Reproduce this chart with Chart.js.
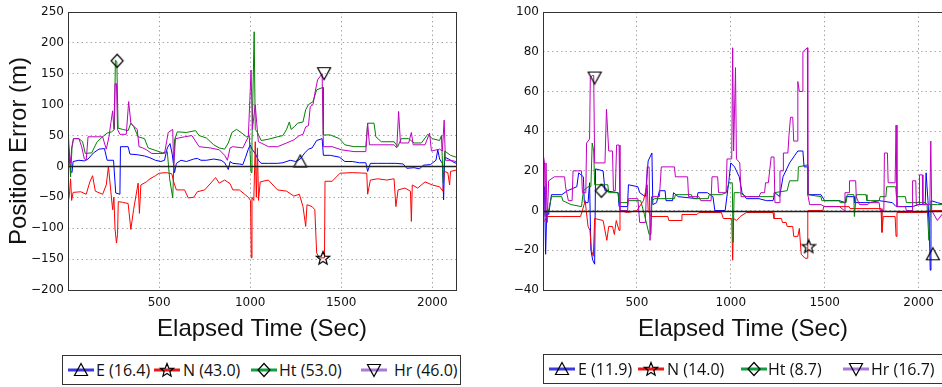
<!DOCTYPE html>
<html>
<head>
<meta charset="utf-8">
<script src="https://cdn.jsdelivr.net/npm/chart.js@4.4.0/dist/chart.umd.min.js"></script>
<style>
    html, body { margin: 0; padding: 0; background: #fff; width: 942px; height: 387px; overflow: hidden; position: relative; }
    canvas.plot { position: absolute; top: 0; }
    .legend { position: absolute; height: 28px; border: 1px solid #333; background: #fff; font: 16px "Open Sans", sans-serif; color: #111; }
    .legend span { position: absolute; top: 0; line-height: 28px; white-space: nowrap; }
    .legend canvas { position: absolute; top: 6px; }
</style>
</head>
<body>
<canvas id="left" class="plot" width="471" height="387" style="left:0"></canvas>
<canvas id="right" class="plot" width="480" height="387" style="left:471px"></canvas>
<div id="legLeft" class="legend" style="left:62px;top:355px;width:397px"></div>
<div id="legRight" class="legend" style="left:543px;top:354px;width:410px"></div>
<script>
// x tick labels (seconds)
const elapsedTicks = [500, 1000, 1500, 2000];

// Left panel: [time (s), error (m)]
const leftE = [[0,15],[8,12],[15,-8],[22,-10],[28,8],[60,10],[90,9],[110,12],[140,22],[170,28],[200,29],[215,10],[250,10],[262,-43],[285,-45],[288,32],[330,32],[340,20],[380,19],[420,17],[450,14],[480,10],[510,8],[530,10],[545,30],[560,37],[572,20],[585,-10],[595,5],[620,10],[650,8],[690,12],[710,13],[730,10],[760,10],[800,12],[840,10],[860,6],[880,-5],[890,8],[905,5],[940,4],[960,3],[975,15],[990,28],[1000,35],[1010,28],[1030,20],[1045,10],[1060,5],[1100,5],[1150,5],[1180,6],[1220,10],[1250,8],[1275,12],[1300,22],[1320,28],[1340,30],[1365,42],[1395,45],[1402,18],[1440,18],[1490,15],[1520,8],[1560,8],[1600,6],[1635,6],[1645,-8],[1660,5],[1700,5],[1750,5],[1800,5],[1840,4],[1860,-3],[1900,-2],[1930,-4],[1950,2],[1990,3],[2020,10],[2030,27],[2040,12],[2055,5],[2062,-54],[2068,15],[2090,12],[2110,8],[2130,5]];
const leftN = [[0,-60],[8,-45],[14,-20],[20,-55],[28,-42],[70,-41],[100,-45],[120,-25],[135,-15],[150,-40],[190,-45],[210,-30],[222,0],[235,-40],[245,-70],[252,-50],[258,-100],[266,-124],[272,-110],[276,-57],[300,-58],[330,-60],[345,-102],[360,-70],[385,-27],[392,-76],[400,-30],[430,-25],[450,-20],[480,-15],[500,-11],[540,-10],[570,-12],[580,-25],[595,-38],[640,-38],[660,-51],[690,-50],[710,-41],[750,-38],[790,-25],[810,-18],[830,-27],[860,-22],[890,-28],[905,-38],[940,-38],[970,-45],[990,-50],[1002,-55],[1006,-148],[1010,-50],[1020,-55],[1028,40],[1034,-50],[1040,30],[1046,-55],[1055,-25],[1100,-22],[1150,-38],[1200,-40],[1240,-48],[1270,-45],[1290,-65],[1305,-97],[1312,-62],[1340,-65],[1355,-70],[1365,-140],[1380,-148],[1408,-148],[1411,-24],[1450,-24],[1493,-11],[1560,-10],[1640,-11],[1645,-45],[1660,-22],[1700,-20],[1750,-22],[1790,-20],[1800,-65],[1812,-38],[1850,-35],[1880,-40],[1885,-89],[1890,-30],[1920,-35],[1960,-25],[2000,-30],[2040,-33],[2058,-40],[2065,-8],[2085,-10],[2095,-30],[2100,-8],[2130,-6]];
const leftHt = [[0,37],[8,20],[14,-17],[22,30],[30,45],[60,45],[80,40],[95,21],[130,22],[160,40],[190,48],[215,54],[240,56],[255,60],[260,172],[268,170],[275,62],[300,60],[330,58],[345,70],[360,65],[385,48],[420,45],[440,30],[480,26],[520,22],[545,24],[558,-20],[575,-51],[585,43],[600,56],[650,55],[700,58],[720,50],[760,46],[800,35],[830,30],[860,28],[880,38],[900,55],[925,60],[950,55],[980,48],[995,50],[1005,-10],[1010,40],[1022,218],[1028,60],[1040,55],[1060,42],[1100,44],[1150,48],[1180,50],[1200,60],[1215,72],[1225,60],[1245,65],[1260,70],[1290,72],[1305,92],[1320,100],[1345,105],[1365,124],[1400,128],[1402,51],[1440,51],[1490,45],[1520,35],[1570,32],[1635,32],[1645,70],[1680,70],[1690,48],[1720,40],[1790,40],[1810,32],[1830,45],[1870,45],[1900,38],[1940,38],[1975,52],[2000,45],[2040,42],[2050,50],[2060,-27],[2068,25],[2100,18],[2130,15]];
const leftHr = [[0,62],[8,20],[14,5],[20,30],[30,45],[60,45],[75,32],[90,12],[100,10],[110,48],[160,48],[190,48],[210,28],[225,48],[235,70],[245,90],[252,60],[258,134],[266,134],[272,60],[285,52],[320,52],[333,105],[345,70],[360,65],[380,60],[390,32],[410,30],[430,27],[460,21],[530,21],[550,55],[575,60],[580,0],[590,45],[640,48],[680,50],[720,32],[780,30],[830,27],[860,18],[875,10],[890,30],[905,32],[960,30],[990,48],[1005,156],[1012,60],[1020,80],[1028,100],[1036,70],[1045,40],[1060,38],[1100,32],[1150,32],[1200,38],[1240,43],[1270,50],[1290,52],[1305,64],[1320,66],[1330,97],[1345,100],[1355,118],[1370,140],[1395,150],[1402,32],[1450,32],[1500,27],[1570,24],[1635,24],[1645,70],[1655,35],[1700,35],[1790,35],[1805,30],[1815,89],[1825,38],[1870,38],[1885,55],[1895,35],[1960,35],[1985,54],[1995,25],[2040,28],[2055,25],[2065,75],[2072,10],[2100,10],[2130,8]];
const leftPeaks = [[1275,8],[1400,-148],[270,171],[1406,151]];
const leftLabels = ['E (16.4)', 'N (43.0)', 'Ht (53.0)', 'Hr (46.0)'];

// Right panel: [time (s), error (m)]
const rightE = [[0,12],[8,12],[14,-22],[20,0],[30,-2],[45,8],[100,8],[130,10],[180,12],[190,19],[215,17],[220,4],[240,4],[248,14],[255,-20],[265,-25],[275,-27],[280,21],[320,20],[330,10],[400,9],[405,2],[450,2],[455,13],[505,12],[515,9],[545,7],[560,25],[580,29],[585,3],[605,4],[620,10],[650,10],[655,5],[690,5],[695,9],[720,7],[820,6],[825,9],[875,9],[905,7],[915,0],[970,0],[990,15],[1000,24],[1020,22],[1030,20],[1045,17],[1060,9],[1083,6],[1150,6],[1190,5],[1225,5],[1235,9],[1260,7],[1278,17],[1313,24],[1357,30],[1384,30],[1390,22],[1408,22],[1410,8],[1480,8],[1500,5],[1578,5],[1610,4],[1614,7],[1658,7],[1660,4],[1740,4],[1790,5],[1860,4],[1880,2],[1967,2],[2000,3],[2035,3],[2040,19],[2050,5],[2058,-12],[2062,-30],[2066,5],[2100,4],[2140,3]];
const rightN = [[0,-6],[10,-5],[20,-3],[100,-3],[200,-3],[225,5],[230,0],[240,-8],[250,-10],[258,-20],[268,-23],[275,-4],[320,-5],[340,-15],[350,-8],[370,-8],[380,-12],[390,-5],[405,-10],[410,0],[450,-1],[500,0],[535,5],[555,13],[560,0],[575,-3],[665,-3],[670,-5],[735,-5],[740,-2],[820,-2],[830,-1],[950,-1],[960,-4],[1005,-4],[1010,-25],[1015,-4],[1030,-5],[1050,-3],[1083,-1],[1225,-1],[1230,-4],[1270,-4],[1275,-6],[1295,-6],[1300,-8],[1330,-8],[1335,-13],[1357,-13],[1365,-9],[1375,-22],[1395,-24],[1408,-24],[1410,0],[1490,0],[1495,2],[1630,2],[1635,1],[1800,1],[1805,-11],[1812,-3],[1875,-3],[1880,-13],[1885,-1],[1960,-1],[2040,-1],[2060,0],[2140,0]];
const rightHt = [[0,-3],[10,0],[30,0],[45,7],[100,7],[105,5],[150,3],[205,2],[215,10],[240,12],[255,12],[262,34],[270,30],[275,13],[345,13],[350,9],[400,9],[405,4],[450,4],[455,5],[520,5],[540,-2],[565,-12],[575,-12],[580,5],[595,6],[700,6],[705,8],[790,8],[800,6],[880,6],[885,8],[950,8],[975,9],[990,14],[1008,14],[1012,-16],[1018,9],[1048,9],[1083,7],[1225,7],[1230,9],[1300,10],[1313,15],[1357,15],[1360,22],[1408,23],[1410,8],[1480,7],[1485,5],[1578,5],[1582,4],[1614,4],[1620,8],[1655,8],[1658,-3],[1668,8],[1720,8],[1725,5],[1790,5],[1795,7],[1826,7],[1830,12],[1878,12],[1882,7],[1930,7],[1935,4],[2038,4],[2045,3],[2055,-15],[2062,3],[2100,3],[2140,3]];
const rightHr = [[0,29],[8,24],[12,-3],[16,24],[22,-6],[30,15],[60,17],[115,17],[120,12],[135,5],[155,5],[160,20],[205,20],[210,9],[228,9],[232,34],[248,36],[252,67],[262,68],[270,68],[275,24],[330,24],[338,51],[350,30],[370,30],[375,10],[385,10],[392,33],[405,33],[410,0],[450,0],[455,6],[505,6],[515,-6],[545,-6],[555,22],[565,22],[570,-15],[578,7],[620,7],[630,22],[700,22],[705,17],[770,17],[775,7],[830,7],[840,5],[895,5],[900,17],[930,17],[935,9],[975,9],[980,26],[1005,26],[1010,82],[1015,30],[1025,72],[1030,26],[1048,24],[1055,7],[1150,7],[1160,9],[1180,9],[1185,14],[1200,14],[1215,27],[1230,27],[1235,4],[1258,4],[1262,20],[1278,20],[1280,29],[1304,29],[1310,38],[1318,47],[1330,47],[1335,35],[1355,35],[1357,65],[1365,60],[1380,60],[1384,80],[1408,82],[1410,8],[1420,3],[1480,3],[1500,2],[1578,2],[1605,0],[1608,9],[1630,9],[1632,15],[1665,15],[1668,7],[1685,3],[1730,3],[1740,4],[1790,4],[1795,0],[1815,0],[1818,29],[1834,29],[1838,14],[1875,14],[1880,43],[1885,2],[1930,2],[1935,0],[1965,0],[1968,15],[1985,15],[1988,3],[2003,3],[2005,18],[2020,18],[2023,3],[2060,3],[2065,35],[2070,0],[2100,-5],[2140,0]];
const rightPeaks = [[2076,-22],[1415,-18],[311,10],[275,67]];
const rightLabels = ['E (11.9)', 'N (14.0)', 'Ht (8.7)', 'Hr (16.7)'];

const lineColors = ['#0000ff', '#ff0000', '#008000', '#bf00bf'];
const legendColors = ['#3a3ae0', '#e81818', '#10a040', '#a87ad8'];
const shapes = ['up', 'star', 'diamond', 'down'];

// small black outline marker, optionally on a coloured legend line
function markerCanvas(shape, lineColor) {
    const w = lineColor ? 26 : 16, h = 16;
    const c = document.createElement('canvas');
    c.width = w; c.height = h;
    const g = c.getContext('2d');
    const cx = w / 2, cy = h / 2;
    if (lineColor) {
        g.strokeStyle = lineColor;
        g.lineWidth = 3;
        g.beginPath(); g.moveTo(0, cy); g.lineTo(w, cy); g.stroke();
    }
    g.strokeStyle = '#000';
    g.lineWidth = 1.2;
    g.beginPath();
    if (shape === 'up') {
        g.moveTo(cx, cy - 6.5); g.lineTo(cx + 6.5, cy + 5.5); g.lineTo(cx - 6.5, cy + 5.5);
    } else if (shape === 'down') {
        g.moveTo(cx, cy + 6.5); g.lineTo(cx + 6.5, cy - 5.5); g.lineTo(cx - 6.5, cy - 5.5);
    } else if (shape === 'diamond') {
        g.moveTo(cx, cy - 6.5); g.lineTo(cx + 6, cy); g.lineTo(cx, cy + 6.5); g.lineTo(cx - 6, cy);
    } else {
        for (let i = 0; i < 10; i++) {
            const a = -Math.PI / 2 + i * Math.PI / 5;
            const r = i % 2 ? 3 : 7;
            const px = cx + r * Math.cos(a), py = cy + 0.5 + r * Math.sin(a);
            i ? g.lineTo(px, py) : g.moveTo(px, py);
        }
    }
    g.closePath();
    g.stroke();
    return c;
}

const markerImgs = shapes.map(s => markerCanvas(s));

const minus = v => v < 0 ? '\u2212' + Math.abs(v) : String(v);

// frame round the plot and black zero line
const framePlugin = {
    id: 'frame',
    afterDatasetsDraw(chart) {
        const { ctx, chartArea: a, scales: { y } } = chart;
        const y0 = Math.round(y.getPixelForValue(0)) + 0.5;
        ctx.save();
        ctx.strokeStyle = '#222';
        ctx.lineWidth = 1.3;
        ctx.beginPath(); ctx.moveTo(a.left, y0); ctx.lineTo(a.right, y0); ctx.stroke();
        ctx.restore();
    },
    afterDraw(chart) {
        const { ctx, chartArea: a } = chart;
        ctx.save();
        ctx.strokeStyle = '#333';
        ctx.lineWidth = 1;
        ctx.strokeRect(Math.round(a.left) + 0.5, Math.round(a.top) + 0.5, Math.round(a.width), Math.round(a.height));
        ctx.restore();
    }
};

function buildChart(id, series, peaks, yMin, yMax, yStep, yTitle, yWidth, padRight) {
    const datasets = series.map((s, i) => ({
        data: s,
        borderColor: lineColors[i],
        borderWidth: 1,
        pointRadius: 0,
        tension: 0,
        order: 4 - i
    }));
    peaks.forEach((p, i) => datasets.push({
        data: [p],
        showLine: false,
        pointStyle: markerImgs[i],
        pointRadius: 7,
        order: 0
    }));

    const gridOpts = { color: '#a8a8a8', lineWidth: 1, drawTicks: false };
    const borderOpts = { display: false, dash: [1.5, 3] };
    const tickFont = { family: '"DejaVu Sans", sans-serif', size: 12 };

    return new Chart(document.getElementById(id), {
        type: 'line',
        data: { datasets },
        options: {
            responsive: false,
            animation: false,
            events: [],
            layout: { padding: { top: 12, right: padRight, bottom: 43, left: 0 } },
            plugins: { legend: { display: false }, tooltip: { enabled: false } },
            scales: {
                x: {
                    type: 'linear',
                    min: 0,
                    max: 2130,
                    afterBuildTicks: s => { s.ticks = elapsedTicks.map(v => ({ value: v })); },
                    afterFit: s => { s.height = 54; },
                    grid: gridOpts,
                    border: borderOpts,
                    ticks: { padding: 6, color: '#111', font: tickFont, maxRotation: 0, callback: v => String(v) },
                    title: {
                        display: true,
                        text: 'Elapsed Time (Sec)',
                        color: '#111',
                        font: { family: '"Liberation Sans", Arial, sans-serif', size: 24 },
                        padding: { top: 0, bottom: 0 }
                    }
                },
                y: {
                    min: yMin,
                    max: yMax,
                    afterFit: s => { s.width = yWidth; },
                    grid: gridOpts,
                    border: borderOpts,
                    ticks: { stepSize: yStep, padding: 4, color: '#111', font: tickFont, callback: minus },
                    title: {
                        display: !!yTitle,
                        text: yTitle,
                        color: '#111',
                        font: { family: '"Liberation Sans", Arial, sans-serif', size: 24 },
                        padding: { top: 5, bottom: 0 }
                    }
                }
            }
        },
        plugins: [framePlugin]
    });
}

function buildLegend(id, labels, iconLeft, textLeft) {
    const box = document.getElementById(id);
    labels.forEach((label, i) => {
        const icon = markerCanvas(shapes[i], legendColors[i]);
        icon.style.left = iconLeft[i] + 'px';
        box.appendChild(icon);
        const span = document.createElement('span');
        span.textContent = label;
        span.style.left = textLeft[i] + 'px';
        box.appendChild(span);
    });
}

buildChart('left', [leftE, leftN, leftHt, leftHr], leftPeaks, -200, 250, 50, 'Position Error (m)', 68, 15);
buildChart('right', [rightE, rightN, rightHt, rightHr], rightPeaks, -40, 100, 20, '', 72, 4);
buildLegend('legLeft', leftLabels, [5, 91, 188, 298], [33, 120, 216, 331]);
buildLegend('legRight', rightLabels, [5, 94, 197, 299], [34, 123, 224, 327]);
</script>
</body>
</html>
